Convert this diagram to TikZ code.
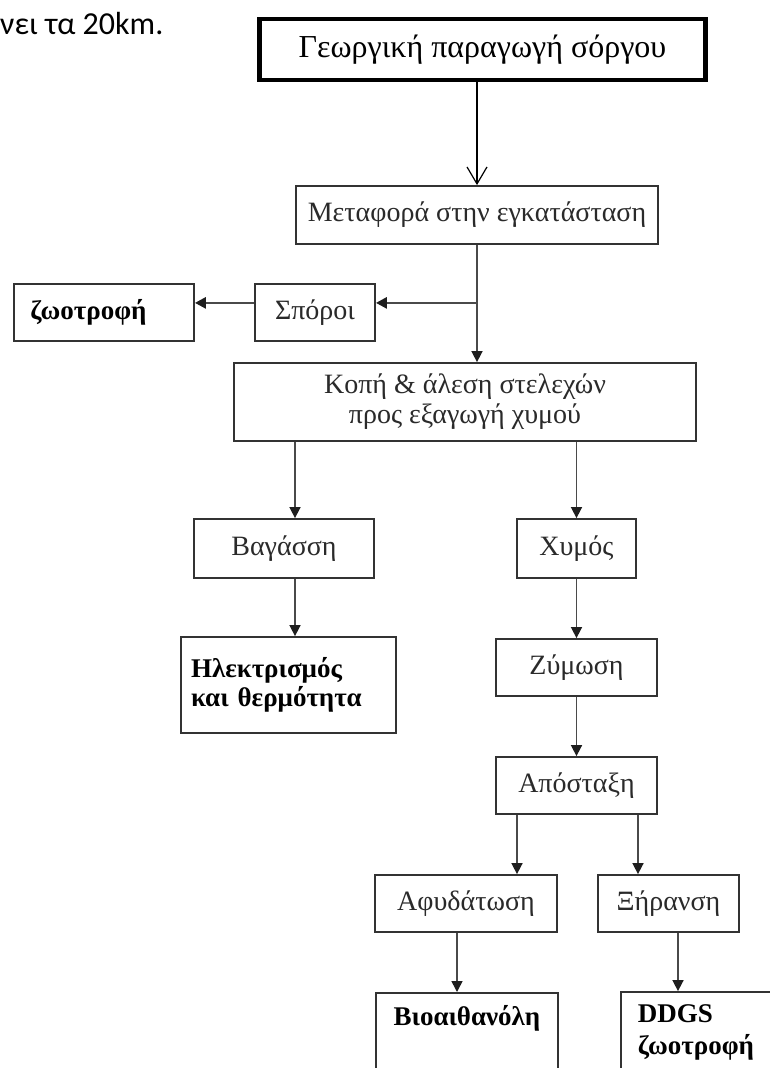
\documentclass[tikz,border=0pt]{standalone}
\usepackage{fontspec}
\setmainfont{Liberation Serif}
\newfontfamily\carlfont{Carlito}
\usetikzlibrary{arrows.meta}
\definecolor{linegray}{HTML}{4A4A4A}
\definecolor{boxgray}{HTML}{333333}
\definecolor{txtgray}{HTML}{2A2A2A}
\definecolor{tipgray}{HTML}{1E1E1E}
\begin{document}
\begin{tikzpicture}[x=1pt,y=-1pt,
  box/.style={draw=boxgray, line width=1.8pt, inner sep=0pt, text=txtgray,
              font=\fontsize{28}{30}\selectfont, align=center},
  boldbox/.style={box, text=black, font=\fontsize{27}{29}\selectfont\bfseries},
  conn/.style={draw=linegray, line width=1.6pt,
               -{Triangle[width=11pt,length=11pt,color=tipgray]}},
  heavyconn/.style={conn, line width=2.6pt},
  openconn/.style={draw=black, line width=1.2pt,
               -{Straight Barb[length=17pt,width=20pt]}}
]
\clip (0,0) rectangle (770,1068);
\fill[white] (0,0) rectangle (770,1068);

% top-left fragment of text
\node[anchor=base west, inner sep=0pt, font=\carlfont\fontsize{32}{36}\selectfont] (frag) at (0,34) {νει τα 20km.};

% nodes
\node[draw=black, line width=4.5pt, inner sep=0pt, minimum width=446pt, minimum height=61pt,
      font=\fontsize{32}{36}\selectfont] (title) at (482.5,49.5) {Γεωργική παραγωγή σόργου};
\node[box, minimum width=362pt, minimum height=58pt] (met) at (477,215) {Μεταφορά στην εγκατάσταση};
\node[box, minimum width=120pt, minimum height=57pt] (spo) at (315,312.5) {Σπόροι};
\node[boldbox, minimum width=180pt, minimum height=57pt, text width=147pt, align=left, inner xsep=16.5pt] (zoo) at (104,312.5) {ζωοτροφή};
\node[box, minimum width=462pt, minimum height=78pt] (kopi) at (465,402) {Κοπή \& άλεση στελεχών\\προς εξαγωγή χυμού};
\node[box, minimum width=180pt, minimum height=59pt] (vag) at (284,548.5) {Βαγάσση};
\node[box, minimum width=119pt, minimum height=59pt] (chy) at (576.5,548.5) {Χυμός};
\node[boldbox, minimum width=215pt, minimum height=96pt, text width=195pt, align=left, inner xsep=10pt] (ilek) at (288.5,685) {Ηλεκτρισμός\\και θερμότητα};
\node[box, minimum width=161pt, minimum height=57pt] (zym) at (576.5,667.5) {Ζύμωση};
\node[box, minimum width=161pt, minimum height=57pt] (apo) at (576.5,785.5) {Απόσταξη};
\node[box, minimum width=182pt, minimum height=57pt] (afy) at (466,903.5) {Αφυδάτωση};
\node[box, minimum width=141pt, minimum height=57pt] (xir) at (668.5,903.5) {Ξήρανση};
\node[boldbox, anchor=north, minimum width=182pt, text height=33pt, text depth=80pt] (bio) at (467,992) {Βιοαιθανόλη};
\node[boldbox, anchor=west, minimum width=200pt, minimum height=80pt, text width=166pt, align=left, inner xsep=17pt, font=\fontsize{27}{32}\selectfont\bfseries] (ddgs) at (620,1032) {DDGS\\ζωοτροφή};

% connectors
\draw[openconn] (title.south -| met.north) -- (met.north);
\coordinate (br) at ([yshift=-58pt]met.south);
\draw[conn] (met.south) -- (met.south |- kopi.north);
\draw[heavyconn] (br) -- (br -| spo.east);
\draw[heavyconn] (spo.west |- br) -- (zoo.east |- br);
\draw[conn] ([xshift=11pt]vag.north |- kopi.south) -- ([xshift=11pt]vag.north);
\draw[conn] (chy.north |- kopi.south) -- (chy.north);
\draw[conn] ([xshift=11pt]vag.south) -- ([xshift=11pt]vag.south |- ilek.north);
\draw[conn] (chy.south) -- (zym.north);
\draw[conn] (zym.south) -- (apo.north);
\draw[conn] ([xshift=-59.5pt]apo.south) -- ([xshift=-59.5pt]apo.south |- afy.north);
\draw[conn] ([xshift=61.5pt]apo.south) -- ([xshift=61.5pt]apo.south |- xir.north);
\draw[conn] ([xshift=-9pt]afy.south) -- ([xshift=-9pt]afy.south |- bio.north);
\draw[conn] ([xshift=9.5pt]xir.south) -- ([xshift=9.5pt]xir.south |- ddgs.north);
\end{tikzpicture}
\end{document}
